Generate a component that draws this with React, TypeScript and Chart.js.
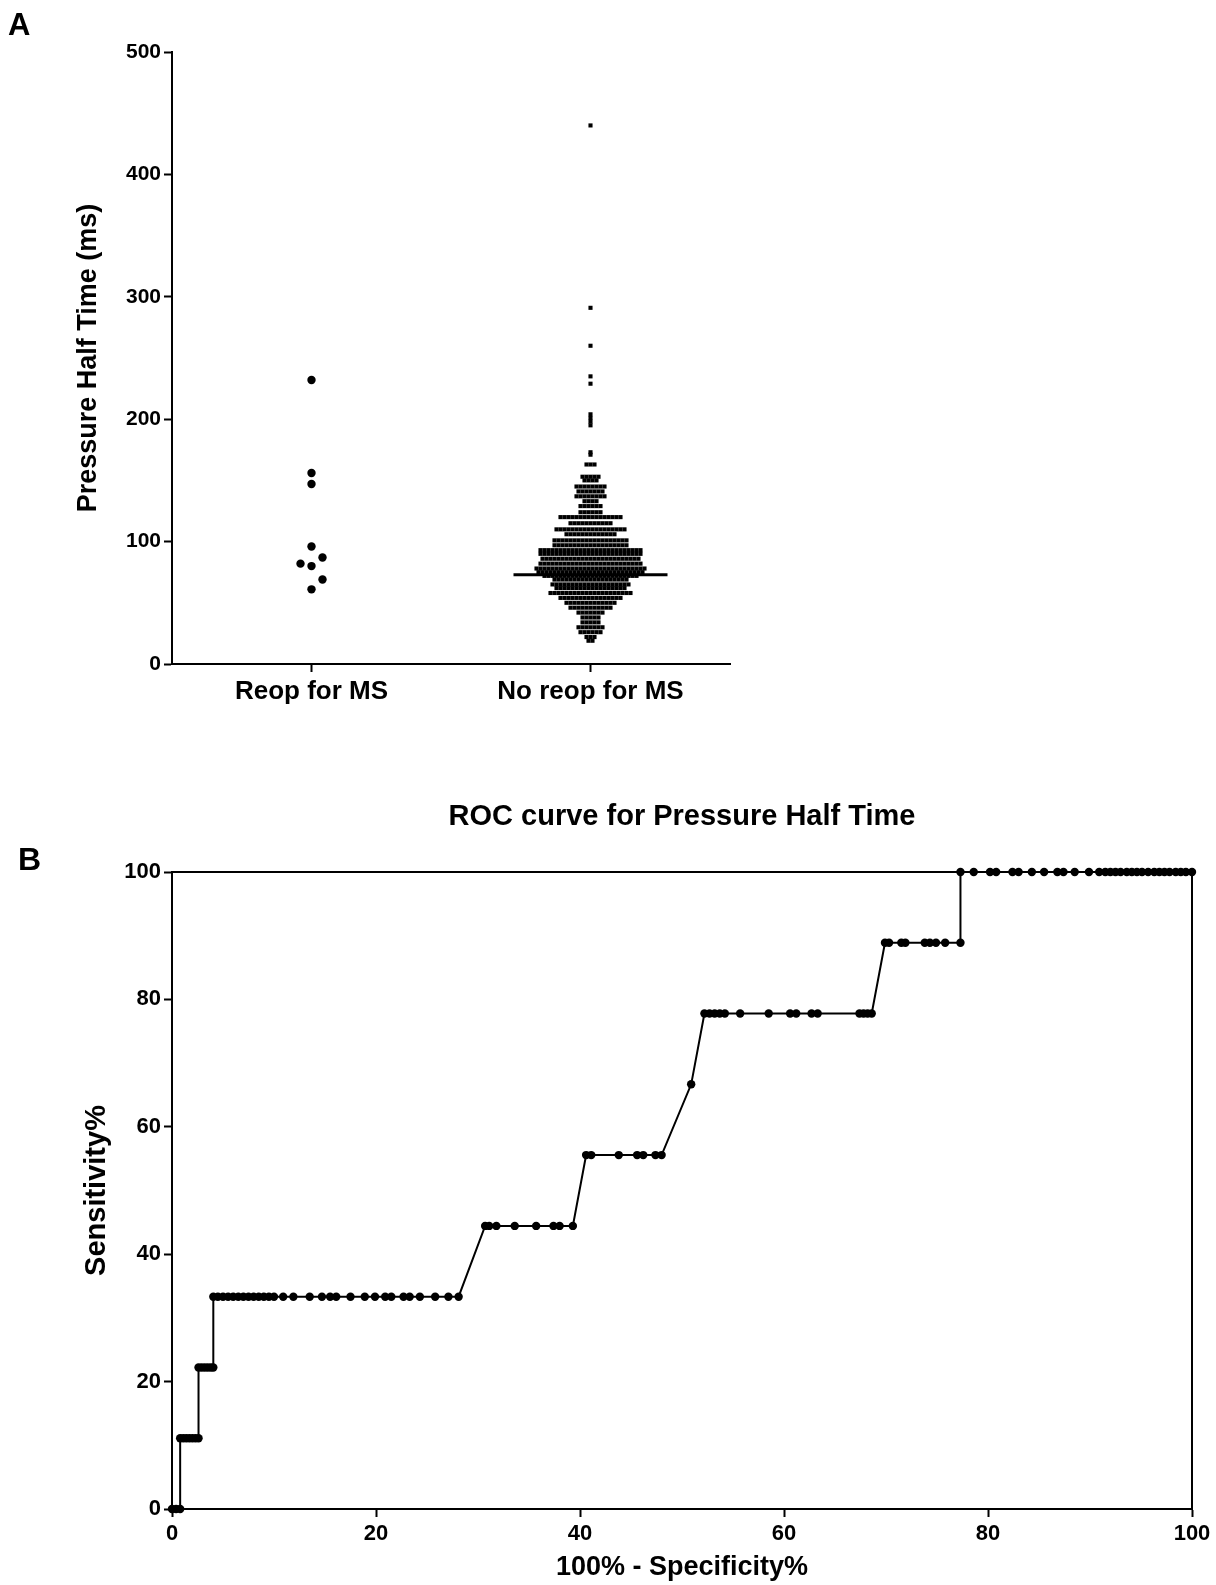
import React, { useEffect, useRef } from "react";
import { Chart, registerables } from "chart.js";

Chart.register(...registerables);

const FONT = '"Liberation Sans", Arial, Helvetica, sans-serif';

// ---------- Panel A data ----------
const groupLabels = ["Reop for MS", "No reop for MS"];
const yTicksA = [0, 100, 200, 300, 400, 500];
// Reop for MS (ms)
const reopValues = [232, 156, 147, 96, 80, 87, 82, 61, 69];
// No reop for MS: value levels (ms) and number of patients at each level
const noReopLevels = [19, 22, 26, 30, 34, 38, 42, 46, 50, 54, 58, 62, 65, 69, 72, 75, 78, 82, 86, 90, 93, 97, 101, 106, 110, 115, 120, 124, 129, 133, 137, 141, 145, 150, 153, 163, 171, 173, 195, 198, 201, 204, 229, 235, 260, 291, 440];
const noReopCounts = [2, 3, 6, 7, 5, 5, 7, 11, 13, 16, 21, 18, 20, 19, 24, 27, 28, 26, 25, 26, 26, 19, 19, 13, 18, 11, 16, 6, 6, 4, 8, 7, 8, 4, 5, 3, 1, 1, 1, 1, 1, 1, 1, 1, 1, 1, 1];
const noReopMedian = 73;

// ---------- Panel B data (ROC) ----------
const xTicksB = [0, 20, 40, 60, 80, 100];
const yTicksB = [0, 20, 40, 60, 80, 100];
const sensLevels = [0, 11.11, 22.22, 33.33, 44.44, 55.56, 66.67, 77.78, 88.89, 100];
const fprAtSens0 = [0, 0.4, 0.8];
const fprAtSens11 = [0.8, 1.1, 1.4, 1.7, 2.0, 2.3, 2.6];
const fprAtSens22 = [2.6, 2.9, 3.2, 3.5, 3.8, 4.05];
const fprAtSens33 = [4.05, 4.5, 5.0, 5.5, 6.0, 6.5, 7.0, 7.5, 8.0, 8.5, 9.0, 9.5, 10.0, 10.9, 11.9, 13.5, 14.7, 15.5, 16.1, 17.5, 18.9, 19.9, 20.9, 21.5, 22.7, 23.3, 24.3, 25.8, 27.1, 28.1];
const fprAtSens44 = [30.7, 31.1, 31.8, 33.6, 35.7, 37.4, 38.0, 39.3];
const fprAtSens56 = [40.6, 41.1, 43.8, 45.6, 46.2, 47.4, 48.0];
const fprAtSens67 = [50.9];
const fprAtSens78 = [52.2, 52.7, 53.2, 53.7, 54.2, 55.7, 58.5, 60.6, 61.2, 62.7, 63.3, 67.4, 67.8, 68.2, 68.6];
const fprAtSens89 = [69.9, 70.3, 71.5, 71.9, 73.8, 74.3, 74.9, 75.8, 77.3];
const fprAtSens100 = [77.3, 78.6, 80.2, 80.8, 82.4, 83.0, 84.3, 85.5, 86.8, 87.4, 88.5, 89.9, 90.9, 91.5, 92.0, 92.5, 93.0, 93.6, 94.1, 94.6, 95.1, 95.7, 96.3, 96.8, 97.3, 97.8, 98.4, 98.9, 99.4, 100];
const fprGroups = [fprAtSens0, fprAtSens11, fprAtSens22, fprAtSens33, fprAtSens44, fprAtSens56, fprAtSens67, fprAtSens78, fprAtSens89, fprAtSens100];

// ---------- layout helpers ----------
const A_AREA = { left: 172, right: 730, top: 52, bottom: 664 };
const A_W = 1216, A_H = 740;
const B_AREA = { left: 172, right: 1192, top: 132, bottom: 769 };
const B_W = 1216, B_H = 845;

const pxPerCat = (A_AREA.right - A_AREA.left) / 2; // x range 0.5..2.5
const pxPerMs = (A_AREA.bottom - A_AREA.top) / 500;

// simple beeswarm: place each point at centre unless it overlaps an earlier one
function beeswarm(values: number[], dyPx: number, dxPx: number) {
  const placed: { v: number; o: number }[] = [];
  return values.map((v) => {
    for (let k = 0; k < 60; k++) {
      const m = k === 0 ? 0 : k % 2 === 1 ? (k + 1) / 2 : -k / 2;
      const o = m * dxPx;
      const hit = placed.some(
        (p) => Math.abs((p.v - v) * pxPerMs) < dyPx && Math.abs(p.o - o) < dxPx
      );
      if (!hit) {
        placed.push({ v, o });
        return o / pxPerCat;
      }
    }
    return 0;
  });
}

function rowsLayout(levels: number[], counts: number[], spacingPx: number) {
  const pts: { x: number; y: number }[] = [];
  levels.forEach((v, i) => {
    const n = counts[i];
    for (let j = 0; j < n; j++) {
      pts.push({ x: 2 + ((j - (n - 1) / 2) * spacingPx) / pxPerCat, y: v });
    }
  });
  return pts;
}

const boldFont = (size: number) => ({ family: FONT, size, weight: "bold" as const });

const axisStyle = {
  border: { display: true, color: "#000", width: 2 },
  grid: {
    display: true,
    drawOnChartArea: false,
    drawTicks: true,
    tickLength: 8,
    tickWidth: 2,
    tickColor: "#000",
  },
};

const framePlugin = {
  id: "frameBox",
  beforeDatasetsDraw(chart: any) {
    const { ctx, chartArea } = chart;
    ctx.save();
    ctx.strokeStyle = "#000";
    ctx.lineWidth = 2;
    ctx.beginPath();
    ctx.moveTo(chartArea.left, chartArea.top);
    ctx.lineTo(chartArea.right, chartArea.top);
    ctx.lineTo(chartArea.right, chartArea.bottom);
    ctx.stroke();
    ctx.restore();
  },
};

export default function App() {
  const refA = useRef<HTMLCanvasElement>(null);
  const refB = useRef<HTMLCanvasElement>(null);

  useEffect(() => {
    Chart.defaults.font.family = FONT;
    Chart.defaults.color = "#000";

    const reopOffsets = beeswarm(reopValues, 10, 11);
    const reopPts = reopValues.map((v, i) => ({ x: 1 + reopOffsets[i], y: v }));
    const noReopPts = rowsLayout(noReopLevels, noReopCounts, 4);
    const medianHalf = 77 / pxPerCat;

    const chartA = new Chart(refA.current as HTMLCanvasElement, {
      type: "scatter",
      data: {
        datasets: [
          {
            type: "line",
            data: [
              { x: 2 - medianHalf, y: noReopMedian },
              { x: 2 + medianHalf, y: noReopMedian },
            ],
            borderColor: "#000",
            borderWidth: 3,
            pointRadius: 0,
            fill: false,
          } as any,
          {
            data: reopPts,
            pointStyle: "circle",
            pointRadius: 4.2,
            pointBorderWidth: 0,
            backgroundColor: "#000",
            borderColor: "#000",
            clip: false,
          } as any,
          {
            data: noReopPts,
            pointStyle: "rect",
            pointRadius: 2.9,
            pointBorderWidth: 0,
            backgroundColor: "#000",
            borderColor: "#000",
            clip: false,
          } as any,
        ],
      },
      options: {
        animation: false,
        responsive: false,
        layout: {
          padding: { left: 0, top: A_AREA.top, right: A_W - A_AREA.right, bottom: 0 },
        },
        plugins: { legend: { display: false }, tooltip: { enabled: false } },
        scales: {
          x: {
            type: "linear",
            min: 0.5,
            max: 2.5,
            ...axisStyle,
            afterBuildTicks: (s: any) => {
              s.ticks = [{ value: 1 }, { value: 2 }];
            },
            afterFit: (s: any) => {
              s.height = A_H - A_AREA.bottom;
            },
            ticks: {
              autoSkip: false,
              maxRotation: 0,
              padding: 4,
              color: "#000",
              font: boldFont(26),
              callback: (v: any) => groupLabels[Math.round(Number(v)) - 1] ?? "",
            },
          } as any,
          y: {
            type: "linear",
            min: 0,
            max: 500,
            ...axisStyle,
            afterBuildTicks: (s: any) => {
              s.ticks = yTicksA.map((v) => ({ value: v }));
            },
            afterFit: (s: any) => {
              s.width = A_AREA.left;
            },
            ticks: { padding: 3, color: "#000", font: boldFont(21) },
            title: {
              display: true,
              text: "Pressure Half Time (ms)",
              color: "#000",
              font: boldFont(27),
              padding: { top: 72, bottom: 0 },
            },
          } as any,
        },
      },
    });

    const rocPts: { x: number; y: number }[] = [];
    fprGroups.forEach((g, i) => g.forEach((x) => rocPts.push({ x, y: sensLevels[i] })));

    const chartB = new Chart(refB.current as HTMLCanvasElement, {
      type: "scatter",
      data: {
        datasets: [
          {
            data: rocPts,
            showLine: true,
            borderColor: "#000",
            borderWidth: 2,
            backgroundColor: "#000",
            pointStyle: "circle",
            pointRadius: 4.2,
            pointBorderWidth: 0,
            tension: 0,
            clip: false,
          } as any,
        ],
      },
      options: {
        animation: false,
        responsive: false,
        layout: { padding: { left: 0, top: 0, right: B_W - B_AREA.right, bottom: 0 } },
        plugins: {
          legend: { display: false },
          tooltip: { enabled: false },
          title: {
            display: true,
            fullSize: false,
            text: "ROC curve for Pressure Half Time",
            color: "#000",
            font: boldFont(29),
            padding: { top: 60, bottom: B_AREA.top - 60 - 34.8 },
          },
        },
        scales: {
          x: {
            type: "linear",
            min: 0,
            max: 100,
            ...axisStyle,
            afterBuildTicks: (s: any) => {
              s.ticks = xTicksB.map((v) => ({ value: v }));
            },
            afterFit: (s: any) => {
              s.height = B_H - B_AREA.bottom;
            },
            ticks: { padding: 4, maxRotation: 0, autoSkip: false, color: "#000", font: boldFont(22) },
            title: {
              display: true,
              text: "100% - Specificity%",
              color: "#000",
              font: boldFont(27),
              padding: { top: 0, bottom: 1 },
            },
          } as any,
          y: {
            type: "linear",
            min: 0,
            max: 100,
            ...axisStyle,
            afterBuildTicks: (s: any) => {
              s.ticks = yTicksB.map((v) => ({ value: v }));
            },
            afterFit: (s: any) => {
              s.width = B_AREA.left;
            },
            ticks: { padding: 3, color: "#000", font: boldFont(22) },
            title: {
              display: true,
              text: "Sensitivity%",
              color: "#000",
              font: boldFont(29),
              padding: { top: 80, bottom: 0 },
            },
          } as any,
        },
      },
      plugins: [framePlugin],
    });

    return () => {
      chartA.destroy();
      chartB.destroy();
    };
  }, []);

  return (
    <div
      style={{
        position: "absolute",
        left: 0,
        top: 0,
        width: 1216,
        height: 1585,
        background: "#fff",
        overflow: "hidden",
      }}
    >
      <canvas
        ref={refA}
        width={A_W}
        height={A_H}
        style={{ position: "absolute", left: 0, top: 0, width: A_W, height: A_H }}
      />
      <canvas
        ref={refB}
        width={B_W}
        height={B_H}
        style={{ position: "absolute", left: 0, top: A_H, width: B_W, height: B_H }}
      />
      <div
        style={{
          position: "absolute",
          left: 8,
          top: 9,
          font: `bold 31px ${FONT}`,
          lineHeight: "31px",
          color: "#000",
        }}
      >
        A
      </div>
      <div
        style={{
          position: "absolute",
          left: 18,
          top: 843,
          font: `bold 32px ${FONT}`,
          lineHeight: "32px",
          color: "#000",
        }}
      >
        B
      </div>
    </div>
  );
}
